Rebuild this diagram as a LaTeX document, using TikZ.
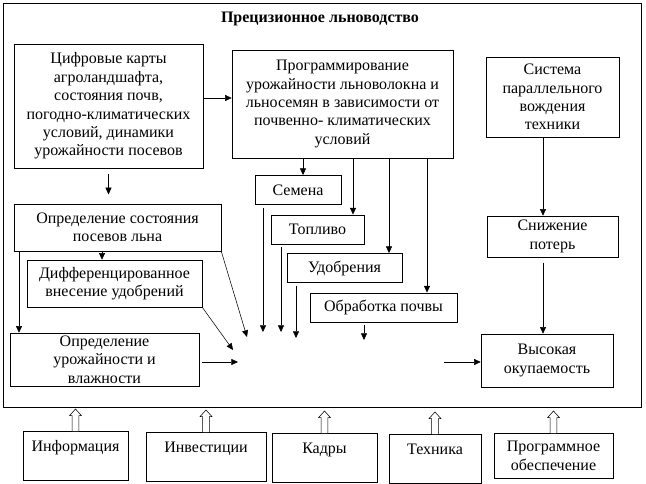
\documentclass[tikz,border=0pt]{standalone}
\usepackage{fontspec}
\setmainfont{Liberation Serif}
\usetikzlibrary{arrows.meta}
\begin{document}
\begin{tikzpicture}
[x=0.75pt, y=-0.75pt,
  boxdecorate/.style={shape=rectangle,draw,thin,align=center,inner sep=1pt,
    font=\fontsize{12}{13.8}\selectfont},
  basedecorate/.style={boxdecorate,inner sep=0pt,text height=15pt,
    text depth=22pt,anchor=north},
  linedecorate/.style={-{Triangle[length=5pt,width=4.5pt]},thin},
  hollowdecorate/.style={draw,thin,fill=white,line join=miter}]
\useasboundingbox (0,0) rectangle (646,484);
%% frame and title
\node (frame) at (322,205) [draw,thin,minimum width=478.5pt,minimum height=303pt] {};
\node (title) at (320,19) [font=\bfseries\fontsize{12}{13.8}\selectfont] {Прецизионное льноводство};
%% nodes or blocks
\node (cards) at (108.5,106) [boxdecorate,minimum width=141.75pt,minimum height=93pt]
  {Цифровые карты\\ агроландшафта,\\ состояния почв,\\ погодно-климатических\\ условий, динамики\\ урожайности посевов};
\node (program) at (342.5,104) [boxdecorate,minimum width=165.75pt,minimum height=81pt]
  {Программирование\\ урожайности льноволокна и\\ льносемян в зависимости от\\ почвенно- климатических\\ условий};
\node (parallel) at (552.5,97) [boxdecorate,minimum width=99.75pt,minimum height=60pt]
  {Система\\ параллельного\\ вождения\\ техники};
\node (state) at (117.5,227.5) [boxdecorate,minimum width=155.25pt,minimum height=35.25pt]
  {Определение состояния\\ посевов льна};
\node (diff) at (114.5,283.5) [boxdecorate,minimum width=131.25pt,minimum height=35.25pt]
  {Дифференцированное\\ внесение удобрений};
\node (yield) at (104.5,359.5) [boxdecorate,minimum width=141.75pt,minimum height=39.75pt]
  {Определение\\ урожайности и\\ влажности};
\node (losses) at (552.5,236.5) [boxdecorate,minimum width=98.25pt,minimum height=30.75pt]
  {Снижение\\ потерь};
\node (payback) at (547,360.5) [boxdecorate,minimum width=99pt,minimum height=39.75pt]
  {Высокая\\ окупаемость};
\foreach \nodename/\x/\y/\w in {seeds/298/190/64.5, fuel/317.5/229.5/69.75,
  fert/344.5/268/86.25, till/383.5/307.5/110.25}
{
  \node (\nodename) at (\x,\y) [boxdecorate,minimum width=\w pt,minimum height=22pt] {};
}
\node at (seeds) [font=\fontsize{12}{13.8}\selectfont] {Семена};
\node at (fuel) [font=\fontsize{12}{13.8}\selectfont] {Топливо};
\node at (fert) [font=\fontsize{12}{13.8}\selectfont] {Удобрения};
\node at (till) [font=\fontsize{12}{13.8}\selectfont] {Обработка почвы};
%% resources below the frame
\node (info) at (75.5,431) [basedecorate,minimum width=78.75pt] {Информация};
\node (invest) at (206,432) [basedecorate,minimum width=90pt] {Инвестиции};
\node (staff) at (324.5,433) [basedecorate,minimum width=78.75pt] {Кадры};
\node (tech) at (435,434) [basedecorate,minimum width=69pt] {Техника};
\node (soft) at (553.5,433) [boxdecorate,anchor=north,minimum width=89.25pt,minimum height=33.75pt]
  {Программное\\ обеспечение};
%% free ends of arrows
\foreach \coordname/\x/\y in {seedsend/263/332, fuelend/281/332, fertend/296/338,
  tillend/364/340, diffend/233/350, stateend/247/337, yieldend/238/362,
  paybackstart/444/362}
{
  \coordinate (\coordname) at (\x,\y);
}
\coordinate (cardsout) at ([yshift=6pt]cards.east);
%% edges or lines
\draw[linedecorate] (cardsout) -- (cardsout -| program.west);
\draw[linedecorate,shorten <=4pt,shorten >=7pt] (cards.south) -- (state.north -| cards.south);
\foreach \endnode/\x in {seeds/303, fuel/353, fert/389, till/427}
{
  \draw[linedecorate] (program.south -| \x,0) -- (\endnode.north -| \x,0);
}
\foreach \startnode/\endpoint in {seeds/seedsend, fuel/fuelend, fert/fertend,
  till/tillend}
{
  \draw[linedecorate,shorten <=2pt] (\startnode.south -| \endpoint) -- (\endpoint);
}
\draw[linedecorate] (state.south -| 102,0) -- (diff.north -| 102,0);
\draw[linedecorate] (state.south -| 19,0) -- (yield.north -| 19,0);
\draw[linedecorate,shorten <=2pt] (yield.east |- yieldend) -- (yieldend);
\draw[linedecorate] (diff.south east) -- (diffend);
\draw[linedecorate] (state.south east) -- (stateend);
\draw[linedecorate] (parallel.south -| 543,0) -- (losses.north -| 543,0);
\draw[linedecorate,shorten <=4pt] (losses.south -| 543,0) -- (payback.north -| 543,0);
\draw[linedecorate] (paybackstart) -- (paybackstart -| payback.west);
%% hollow arrows up to the frame
\foreach \startnode in {info, invest, staff, tech, soft}
{
  \path[hollowdecorate] ([xshift=-2.5pt]\startnode.north) -- ++(0,11.5pt) -- ++(-2pt,0)
    -- ++(4.5pt,5pt) -- ++(4.5pt,-5pt) -- ++(-2pt,0) -- ++(0,-11.5pt);
}
\end{tikzpicture}
\end{document}
